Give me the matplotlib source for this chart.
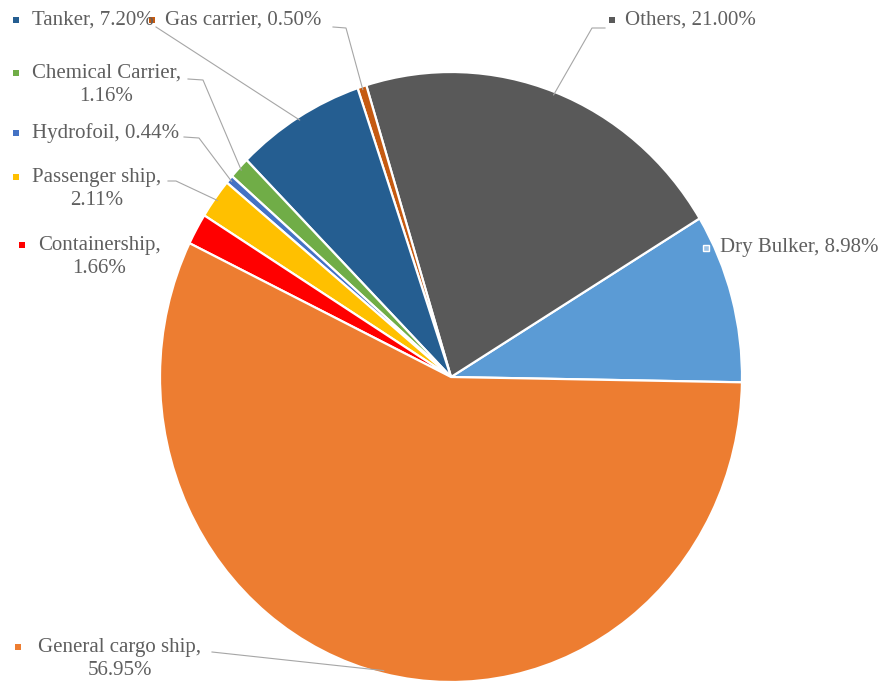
import numpy as np
import matplotlib
matplotlib.use("Agg")
import matplotlib.pyplot as plt
from matplotlib.patches import Rectangle

# ---- data ----
categories = ["Dry Bulker", "Others", "Gas carrier", "Tanker", "Chemical Carrier",
              "Hydrofoil", "Passenger ship", "Containership", "General cargo ship"]
shares = [8.98, 21.00, 0.50, 7.20, 1.16, 0.44, 2.11, 1.66, 56.95]
colors = ["#5B9BD5", "#595959", "#C55A11", "#255E91", "#70AD47",
          "#4472C4", "#FFC000", "#FF0000", "#ED7D31"]

W, H = 885, 682
CX, CY = 451, 377      # pie centre (pixels)
RX, RY = 291, 305      # pie radii (pixels)
START = -1.0

fig = plt.figure(figsize=(W / 100, H / 100), dpi=100)
ax = fig.add_axes([0, 0, 1, 1])
ax.pie(shares, colors=colors, startangle=START, counterclock=True,
       wedgeprops=dict(edgecolor="white", linewidth=1.6))
ax.set_aspect("auto")
ax.set_xlim((0 - CX) / RX, (W - CX) / RX)
ax.set_ylim((CY - H) / RY, (CY - 0) / RY)
ax.axis("off")


def P(px, py):
    return (px - CX) / RX, (CY - py) / RY


# label layout: marker x, first-line y, text x, line breaks, leader path start pts
layout = {
    "Tanker":             dict(mx=16, y=20, tx=32, wrap=False, lead=[(156, 27)]),
    "Gas carrier":        dict(mx=152, y=20, tx=165, wrap=False, lead=[(333, 27), (346, 28)]),
    "Others":             dict(mx=612, y=20, tx=625, wrap=False, lead=[(605, 28), (592, 28)]),
    "Chemical Carrier":   dict(mx=16, y=73, tx=32, wrap=True, lead=[(188, 79), (203, 80)]),
    "Hydrofoil":          dict(mx=16, y=133, tx=32, wrap=False, lead=[(184, 137), (199, 138)]),
    "Passenger ship":     dict(mx=16, y=177, tx=32, wrap=True, lead=[(168, 181), (176, 181)]),
    "Containership":      dict(mx=22, y=245, tx=38, wrap=True, lead=None),
    "Dry Bulker":         dict(mx=706, y=248, tx=720, wrap=False, lead=None),
    "General cargo ship": dict(mx=18, y=647, tx=38, wrap=True, lead=[(212, 652)]),
}

total = sum(shares)
cum = 0.0
font = dict(family=["Liberation Serif", "DejaVu Serif"], fontsize=15, color="#5f5f5f")
for name, val, col in zip(categories, shares, colors):
    mid = START + (cum + val / 2) / total * 360
    cum += val
    L = layout[name]
    sep = "\n" if L["wrap"] else " "
    txt = f"{name},{sep}{val:.2f}%"
    x, y = P(L["tx"], L["y"])
    if L["wrap"]:
        y = P(0, L["y"] + 12)[1]
    ax.text(x, y, txt, ha="left", va="center", multialignment="center",
            linespacing=1.3, **font)
    # marker square
    s = 6
    mx0, my0 = P(L["mx"] - s / 2, L["y"] + s / 2)
    ec = "white" if name == "Dry Bulker" else col
    fc = "#9DC3E6" if name == "Dry Bulker" else col
    ax.add_patch(Rectangle((mx0, my0), s / RX, s / RY, facecolor=fc,
                           edgecolor=ec, linewidth=1.0 if name == "Dry Bulker" else 0))
    if L["lead"]:
        pts = [P(*p) for p in L["lead"]]
        th = np.deg2rad(mid)
        pts.append((0.99 * np.cos(th), 0.99 * np.sin(th)))
        xs, ys = zip(*pts)
        ax.plot(xs, ys, color="#A6A6A6", linewidth=0.8)

fig.savefig("out.png", dpi=100, facecolor="white")
